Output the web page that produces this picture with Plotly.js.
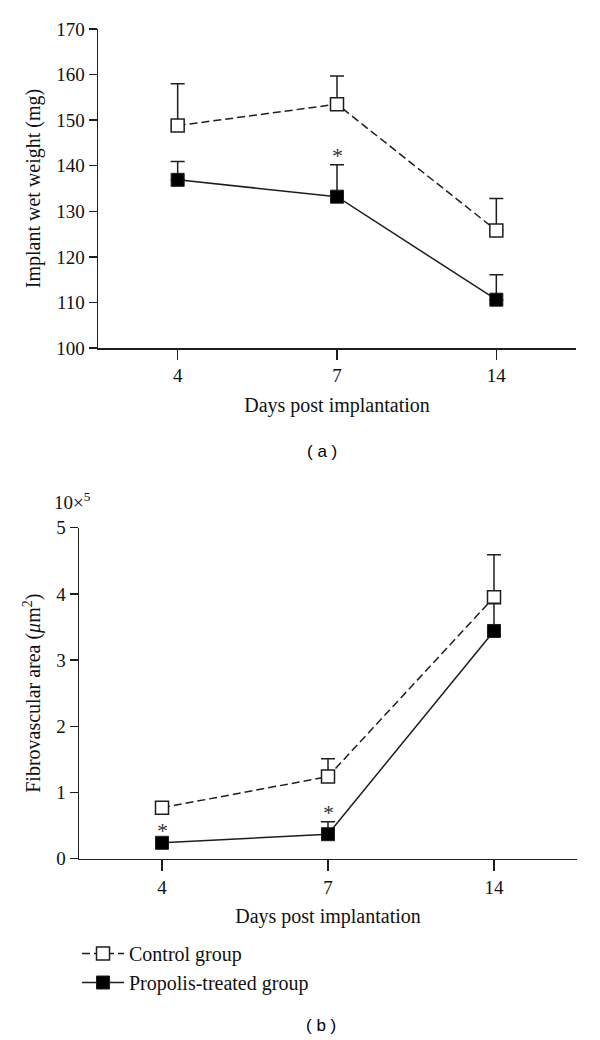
<!DOCTYPE html>
<html>
<head>
<meta charset="utf-8">
<script src="https://cdn.plot.ly/plotly-3.0.1.min.js"></script>
<style>html,body{margin:0;padding:0;background:#fff;}#chart{width:600px;height:1040px;}</style>
</head>
<body>
<div id="chart"></div>
<script>
// ---- Data ----
const days = ['4', '7', '14'];

// (a) Implant wet weight (mg)
const controlWeight = [148.8, 153.5, 125.8];
const controlWeightErr = [9.2, 6.2, 7.0];
const propolisWeight = [136.9, 133.2, 110.6];
const propolisWeightErr = [4.0, 7.0, 5.5];
const sigWeightDays = ['7'];

// (b) Fibrovascular area (x10^5 um^2)
const controlArea = [0.77, 1.24, 3.95];
const controlAreaErr = [0.08, 0.27, 0.64];
const propolisArea = [0.24, 0.37, 3.44];
const propolisAreaErr = [0.05, 0.19, 0.42];
const sigAreaDays = ['4', '7'];

const seriesNames = ['Control group', 'Propolis-treated group'];

// ---- Styles ----
const ink = '#1e1e1e';
const serif = 'Liberation Serif, Times New Roman, serif';

function errBar(arr) {
  return {type: 'data', symmetric: false, array: arr, arrayminus: arr.map(() => 0),
          width: 7, thickness: 1.5, color: ink};
}
function controlTrace(y, err, xa, ya, show) {
  return {x: days, y: y, xaxis: xa, yaxis: ya, name: seriesNames[0], showlegend: show,
    mode: 'lines+markers', type: 'scatter', cliponaxis: false,
    line: {color: ink, width: 1.5, dash: '8px,4px'},
    marker: {symbol: 'square', size: 13, color: '#ffffff', line: {color: ink, width: 1.5}},
    error_y: errBar(err)};
}
function propolisTrace(y, err, xa, ya, show) {
  return {x: days, y: y, xaxis: xa, yaxis: ya, name: seriesNames[1], showlegend: show,
    mode: 'lines+markers', type: 'scatter', cliponaxis: false,
    line: {color: ink, width: 1.5},
    marker: {symbol: 'square', size: 13, color: '#000000', line: {color: ink, width: 1}},
    error_y: errBar(err)};
}

const traces = [
  controlTrace(controlWeight, controlWeightErr, 'x', 'y', false),
  propolisTrace(propolisWeight, propolisWeightErr, 'x', 'y', false),
  controlTrace(controlArea, controlAreaErr, 'x2', 'y2', true),
  propolisTrace(propolisArea, propolisAreaErr, 'x2', 'y2', true)
];

// significance stars above the propolis error bars (x uses category index)
function starAnns(sigDays, vals, errs, xref, yref) {
  return sigDays.map(d => {
    const i = days.indexOf(d);
    return {x: i, y: vals[i] + errs[i], xref: xref, yref: yref, text: '*',
      showarrow: false, yanchor: 'bottom', yshift: -5,
      font: {family: serif, size: 22, color: '#333'}};
  });
}

const axisCommon = {
  showline: true, linecolor: ink, linewidth: 1.5, showgrid: false, zeroline: false,
  ticks: 'outside', tickwidth: 1.5, tickcolor: ink,
  tickfont: {family: serif, size: 19, color: '#111'}
};

const layout = {
  width: 600, height: 1040,
  margin: {l: 0, r: 0, t: 0, b: 0},
  paper_bgcolor: '#fff', plot_bgcolor: '#fff',
  font: {family: serif, color: '#111'},
  xaxis: Object.assign({}, axisCommon, {
    domain: [98 / 600, 576 / 600], anchor: 'y', type: 'category',
    range: [-0.5, 2.5], ticklen: 10,
    title: {text: 'Days post implantation', font: {family: serif, size: 20}, standoff: 12}
  }),
  yaxis: Object.assign({}, axisCommon, {
    domain: [1 - 348 / 1040, 1 - 29 / 1040], anchor: 'x',
    range: [100, 170], dtick: 10, ticklen: 8,
    title: {text: 'Implant wet weight (mg)', font: {family: serif, size: 20}, standoff: 10}
  }),
  xaxis2: Object.assign({}, axisCommon, {
    domain: [79 / 600, 577 / 600], anchor: 'y2', type: 'category',
    range: [-0.5, 2.5], ticklen: 11,
    title: {text: 'Days post implantation', font: {family: serif, size: 20}, standoff: 12}
  }),
  yaxis2: Object.assign({}, axisCommon, {
    domain: [1 - 858.7 / 1040, 1 - 527.7 / 1040], anchor: 'x2',
    range: [0, 5], dtick: 1, ticklen: 8,
    title: {text: 'Fibrovascular area (<i>μ</i>m<sup>2</sup>)', font: {family: serif, size: 20}, standoff: 10}
  }),
  legend: {
    x: 77 / 600, y: 1 - 934 / 1040, xanchor: 'left', yanchor: 'top',
    bgcolor: 'rgba(0,0,0,0)', font: {family: serif, size: 20, color: '#111'},
    tracegroupgap: 0, itemwidth: 42
  },
  annotations: [
    ...starAnns(sigWeightDays, propolisWeight, propolisWeightErr, 'x', 'y'),
    ...starAnns(sigAreaDays, propolisArea, propolisAreaErr, 'x2', 'y2'),
    {x: 52 / 600, y: 1 - 501 / 1040, xref: 'paper', yref: 'paper', xanchor: 'left', yanchor: 'middle',
     text: '10×<sup>5</sup>', showarrow: false, font: {family: serif, size: 19, color: '#111'}},
    {x: 322 / 600, y: 1 - 451 / 1040, xref: 'paper', yref: 'paper', xanchor: 'center', yanchor: 'middle',
     text: '( a )', showarrow: false, font: {family: 'Liberation Sans, Arial, sans-serif', size: 17, color: '#000'}},
    {x: 321 / 600, y: 1 - 1025 / 1040, xref: 'paper', yref: 'paper', xanchor: 'center', yanchor: 'middle',
     text: '( b )', showarrow: false, font: {family: 'Liberation Sans, Arial, sans-serif', size: 17, color: '#000'}}
  ]
};

Plotly.newPlot('chart', traces, layout, {displayModeBar: false, staticPlot: true});
</script>
</body>
</html>
